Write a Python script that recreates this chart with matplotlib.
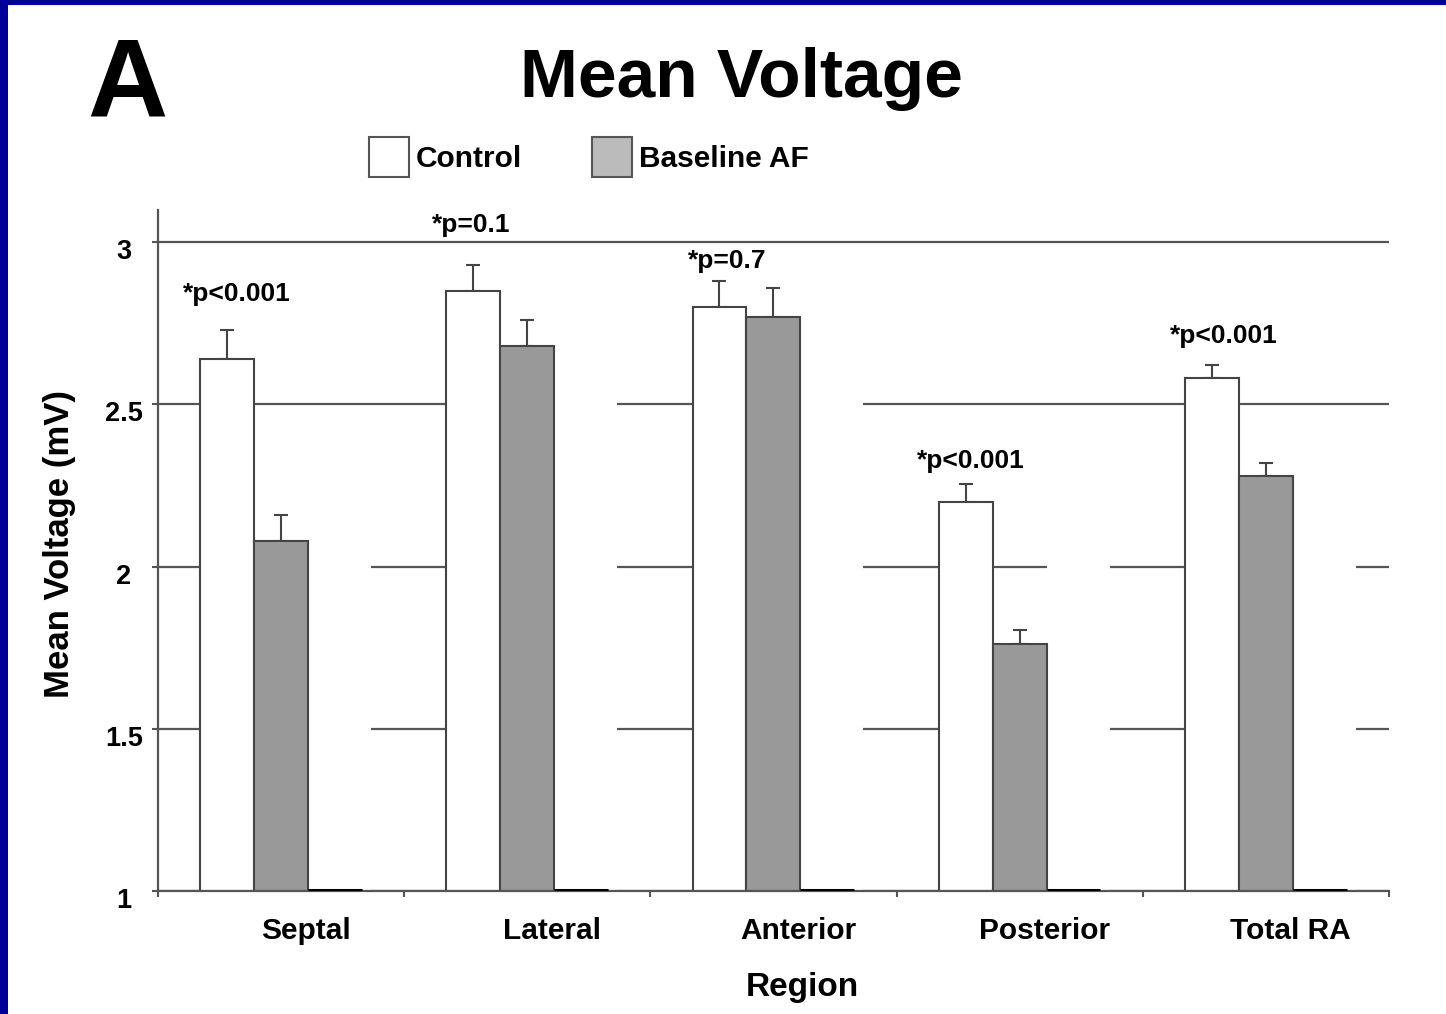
import matplotlib
matplotlib.use("Agg")
import matplotlib.pyplot as plt
from matplotlib.patches import Rectangle, Patch
from matplotlib.transforms import ScaledTranslation
import numpy as np

# region means and SEM (mV)
regions = ["Septal", "Lateral", "Anterior", "Posterior", "Total RA"]
control = [2.64, 2.85, 2.80, 2.20, 2.58]
control_err = [0.09, 0.08, 0.08, 0.055, 0.04]
baseline_af = [2.08, 2.68, 2.77, 1.76, 2.28]
baseline_af_err = [0.08, 0.08, 0.09, 0.046, 0.04]
# third series, blanked out in the figure (only its base is left)
hidden_series = [2.3, 2.75, 2.75, 2.3, 2.3]
p_labels = ["*p<0.001", "*p=0.1", "*p=0.7", "*p<0.001", "*p<0.001"]

# text placement for the p-values (data coords)
p_label_y = [2.82, 3.03, 2.92, 2.305, 2.69]
p_label_dx = [0.04, -0.01, 0.03, 0.02, 0.05]

W, H = 1446, 1014
FONT = "Liberation Sans"
plt.rcParams["font.family"] = [FONT, "DejaVu Sans"]
plt.rcParams["font.weight"] = "bold"

fig = plt.figure(figsize=(W / 100, H / 100), dpi=100)
fig.patch.set_facecolor("#000099")
fig.patches.append(Rectangle((8 / W, 0), 1, (H - 5) / H, transform=fig.transFigure,
                             facecolor="white", edgecolor="none", zorder=-10))

ax = fig.add_axes([158 / W, 1 - 891 / H, (1389 - 158) / W, (891 - 210) / H])
ax.set_facecolor("white")

n = len(regions)
x = np.arange(n)
bw = 0.219
off0 = 0.171
edge = "#444444"

c = np.array(control)
a = np.array(baseline_af)
h = np.array(hidden_series)

ax.bar(x + off0, c - 1, bw, bottom=1, align="edge", color="white",
       edgecolor=edge, linewidth=1.5, zorder=2)
ax.bar(x + off0 + bw, a - 1, bw, bottom=1, align="edge", color="#999999",
       edgecolor=edge, linewidth=1.5, zorder=2)
# blank third bars (wider white block hides the grid), black base line kept
ax.bar(x + off0 + 2 * bw, h - 1, bw + 0.037, bottom=1, align="edge",
       color="white", edgecolor="none", zorder=1.5)
ax.hlines(np.ones(n) * 1.002, x + off0 + 2 * bw, x + off0 + 3 * bw,
          color="black", linewidth=2.2, zorder=3)

ax.errorbar(x + off0 + bw / 2, c, yerr=[np.zeros(n), control_err], fmt="none",
            ecolor=edge, elinewidth=1.5, capsize=4.7, capthick=1.5, zorder=1.8)
ax.errorbar(x + off0 + 1.5 * bw, a, yerr=[np.zeros(n), baseline_af_err], fmt="none",
            ecolor=edge, elinewidth=1.5, capsize=4.7, capthick=1.5, zorder=1.8)

for i, lab in enumerate(p_labels):
    ax.text(x[i] + off0 + bw / 2 + p_label_dx[i], p_label_y[i], lab,
            ha="center", va="baseline", fontsize=19, fontweight="bold")

ax.set_xlim(0, n)
ax.set_ylim(1, 3.099)
ax.set_yticks([1, 1.5, 2, 2.5, 3])
ax.set_yticklabels(["1", "1.5", "2", "2.5", "3"])
ax.yaxis.grid(True, color="#555555", linewidth=1.6)
ax.set_axisbelow(True)

for s in ["top", "right"]:
    ax.spines[s].set_visible(False)
for s in ["left", "bottom"]:
    ax.spines[s].set_color("#555555")
    ax.spines[s].set_linewidth(1.6)

ax.tick_params(axis="y", length=4.5, width=1.5, color="#555555", pad=20,
               labelsize=19.5)
for t in ax.get_yticklabels():
    t.set_horizontalalignment("center")
    t.set_fontweight("bold")
    t.set_transform(t.get_transform() + ScaledTranslation(0, -7 / 100, fig.dpi_scale_trans))

ax.set_xticks(x + 0.6)
ax.set_xticklabels(regions, fontsize=21.5, fontweight="bold")
ax.tick_params(axis="x", which="major", length=0, pad=19)
ax.set_xticks(np.arange(n + 1), minor=True)
ax.tick_params(axis="x", which="minor", length=4.5, width=1.5, color="#555555")

ax.set_xlabel("Region", fontsize=24, fontweight="bold")
ax.xaxis.set_label_coords((802 - 158) / (1389 - 158), -0.119)
ax.set_ylabel("Mean Voltage (mV)", fontsize=25, fontweight="bold")
ax.yaxis.set_label_coords(-0.067, 0.51)

fig.text(741 / W, 1 - 97 / H, "Mean Voltage", ha="center", va="baseline",
         fontsize=50, fontweight="bold")
fig.text(127 / W, 1 - 117 / H, "A", ha="center", va="baseline",
         fontsize=80, fontweight="bold")

handles = [Patch(facecolor="white", edgecolor="#555555", linewidth=1.5),
           Patch(facecolor="#bbbbbb", edgecolor="#555555", linewidth=1.5)]
fig.legend(handles, ["Control", "Baseline AF"], loc="center",
           bbox_to_anchor=(589 / W, 1 - 157 / H), ncol=2, frameon=False,
           prop={"size": 21.5, "weight": "bold"}, handlelength=1.34,
           handleheight=1.65, handletextpad=0.22, columnspacing=2.35)

fig.savefig("out.png", dpi=100, facecolor=fig.get_facecolor())
